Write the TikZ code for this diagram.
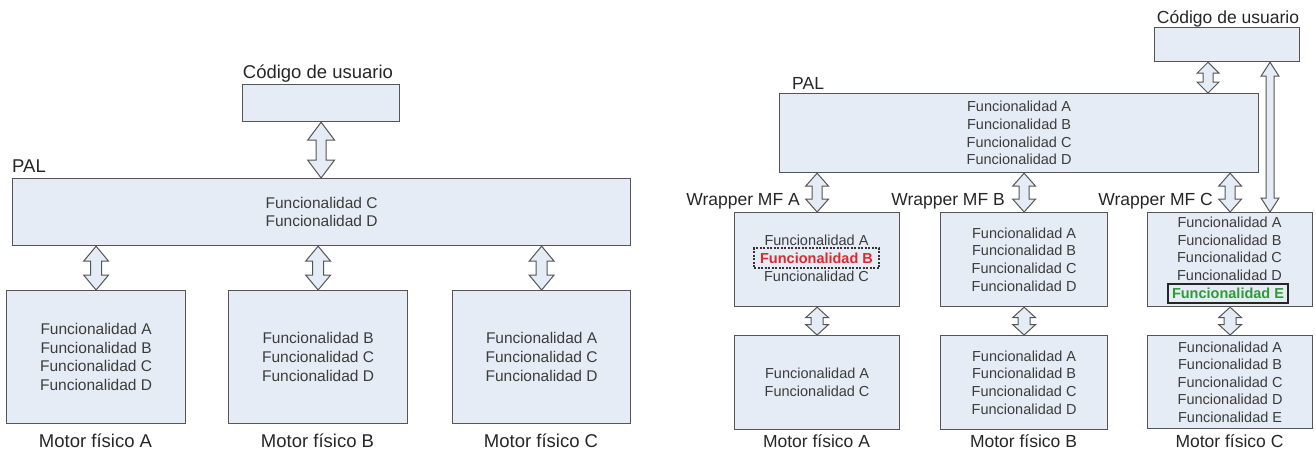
\documentclass[tikz,border=0pt]{standalone}
\usepackage{fontspec}
\setmainfont{Liberation Sans}
\usetikzlibrary{calc}
\definecolor{boxfill}{HTML}{E6ECF5}
\definecolor{boxline}{HTML}{555555}
\definecolor{txt}{HTML}{3C3C3C}
\definecolor{redt}{HTML}{E3262E}
\definecolor{greent}{HTML}{2F9A35}
\tikzset{
 box/.style={draw=boxline, fill=boxfill, line width=1.2pt, anchor=north west, inner sep=0pt, text=txt, align=center},
 ltxt/.style={font=\fontsize{15.5}{18.7}\selectfont},
 rtxt/.style={font=\fontsize{14.5}{17.6}\selectfont},
 rtxtb/.style={font=\fontsize{14.5}{17.6}\selectfont\bfseries},
 llab/.style={font=\fontsize{18.5}{22}\selectfont, text=black!85, inner sep=0pt},
 rlab/.style={font=\fontsize{17.5}{21}\selectfont, text=black!85, inner sep=0pt},
 arr/.style={draw=boxline, fill=boxfill, line width=1pt, line join=miter},
}
\newcommand{\dblarr}[5]{%
 \draw[arr] let \p1=(#1), \p2=(#2) in
   (\x1,\y1) -- (\x1+#3,\y1-#5) -- (\x1+#4,\y1-#5) -- (\x1+#4,\y2+#5) -- (\x1+#3,\y2+#5)
   -- (\x1,\y2) -- (\x1-#3,\y2+#5) -- (\x1-#4,\y2+#5) -- (\x1-#4,\y1-#5) -- (\x1-#3,\y1-#5) -- cycle;}
\begin{document}
\begin{tikzpicture}[x=1pt,y=-1pt]
\useasboundingbox (0,0) rectangle (1316,453);
% ---------- left diagram ----------
\node[box, minimum width=157, minimum height=37] (lusr) at (242,84) {};
\node[box, ltxt, minimum width=618, minimum height=67] (lpal) at (12,178) {Funcionalidad C\\Funcionalidad D};
\node[box, ltxt, minimum width=179, minimum height=133] (lma) at (6,290) {Funcionalidad A\\Funcionalidad B\\Funcionalidad C\\Funcionalidad D};
\node[box, ltxt, minimum width=179, minimum height=133] (lmb) at (228,290) {Funcionalidad B\\Funcionalidad C\\Funcionalidad D};
\node[box, ltxt, minimum width=178, minimum height=133] (lmc) at (452,290) {Funcionalidad A\\Funcionalidad C\\Funcionalidad D};
\node[llab, anchor=base] (lusrl) at (318,78) {Código de usuario};
\node[llab, anchor=base west] (lpall) at (12,172) {PAL};
\node[llab, anchor=base] (lmal) at (95.5,447) {Motor físico A};
\node[llab, anchor=base] (lmbl) at (317.5,447) {Motor físico B};
\node[llab, anchor=base] (lmcl) at (541,447) {Motor físico C};
\dblarr{lusr.south}{lpal.north}{13.5pt}{5pt}{18pt}
\dblarr{lpal.south -| lma.north}{lma.north}{12.5pt}{5.5pt}{15pt}
\dblarr{lpal.south -| lmb.north}{lmb.north}{12.5pt}{5.5pt}{15pt}
\dblarr{lpal.south -| lmc.north}{lmc.north}{12.5pt}{5.5pt}{15pt}
% ---------- right diagram ----------
\node[box, minimum width=145, minimum height=34] (rusr) at (1154,27) {};
\node[box, rtxt, minimum width=479, minimum height=79] (rpal) at (779,93) {Funcionalidad A\\Funcionalidad B\\Funcionalidad C\\Funcionalidad D};
\node[box, minimum width=165, minimum height=94] (rwa) at (734,212) {};
\node[rtxt, text=txt, inner sep=0pt] (rwa1) at (816.5,240) {Funcionalidad A};
\node[rtxtb, text=redt, draw=black!80, line width=1.3pt, dash pattern=on 2pt off 1.5pt, minimum width=125, minimum height=20, inner sep=0pt] (rwab) at (816.5,258) {Funcionalidad B};
\node[rtxt, text=txt, inner sep=0pt] (rwa3) at (816.5,276) {Funcionalidad C};
\node[box, rtxt, minimum width=165, minimum height=94] (rma) at (734,335) {Funcionalidad A\\Funcionalidad C};
\node[box, rtxt, minimum width=167, minimum height=94] (rwb) at (940,212) {Funcionalidad A\\Funcionalidad B\\Funcionalidad C\\Funcionalidad D};
\node[box, rtxt, minimum width=167, minimum height=94] (rmb) at (940,335) {Funcionalidad A\\Funcionalidad B\\Funcionalidad C\\Funcionalidad D};
\node[box, minimum width=165, minimum height=94] (rwc) at (1147,212) {};
\node[rtxt, text=txt, align=center, inner sep=0pt] (rwct) at (1229.5,249) {Funcionalidad A\\Funcionalidad B\\Funcionalidad C\\Funcionalidad D};
\node[rtxtb, text=greent, draw=black!85, line width=1.5pt, minimum width=120, minimum height=19, inner sep=0pt] (rwce) at (1228,293.5) {Funcionalidad E};
\node[box, rtxt, minimum width=165, minimum height=93] (rmc) at (1147,335) {Funcionalidad A\\Funcionalidad B\\Funcionalidad C\\Funcionalidad D\\Funcionalidad E};
\node[rlab, anchor=base] (rusrl) at (1228,23.5) {Código de usuario};
\node[rlab, anchor=base west] (rpall) at (792,89) {PAL};
\node[rlab, anchor=base east] (rwal) at (800,205.5) {Wrapper MF A};
\node[rlab, anchor=base east] (rwbl) at (1005,205.5) {Wrapper MF B};
\node[rlab, anchor=base east] (rwcl) at (1213,205.5) {Wrapper MF C};
\node[rlab, anchor=base] (rmal) at (816.5,447) {Motor físico A};
\node[rlab, anchor=base] (rmbl) at (1023.5,447) {Motor físico B};
\node[rlab, anchor=base] (rmcl) at (1229.5,447) {Motor físico C};
\coordinate (ux) at (1208,0);
\coordinate (lx) at (1270,0);
\dblarr{rusr.south -| ux}{rpal.north -| ux}{11pt}{5pt}{11pt}
\dblarr{rusr.south -| lx}{rwc.north -| lx}{9pt}{4pt}{14pt}
\dblarr{rpal.south -| rwa.north}{rwa.north}{11.5pt}{5pt}{13pt}
\dblarr{rpal.south -| rwb.north}{rwb.north}{11.5pt}{5pt}{13pt}
\dblarr{rpal.south -| rwc.north}{rwc.north}{11.5pt}{5pt}{13pt}
\dblarr{rwa.south}{rma.north}{11.5pt}{6pt}{10.5pt}
\dblarr{rwb.south}{rmb.north}{11.5pt}{6pt}{10.5pt}
\dblarr{rwc.south}{rmc.north}{11.5pt}{6pt}{10.5pt}
\end{tikzpicture}
\end{document}
